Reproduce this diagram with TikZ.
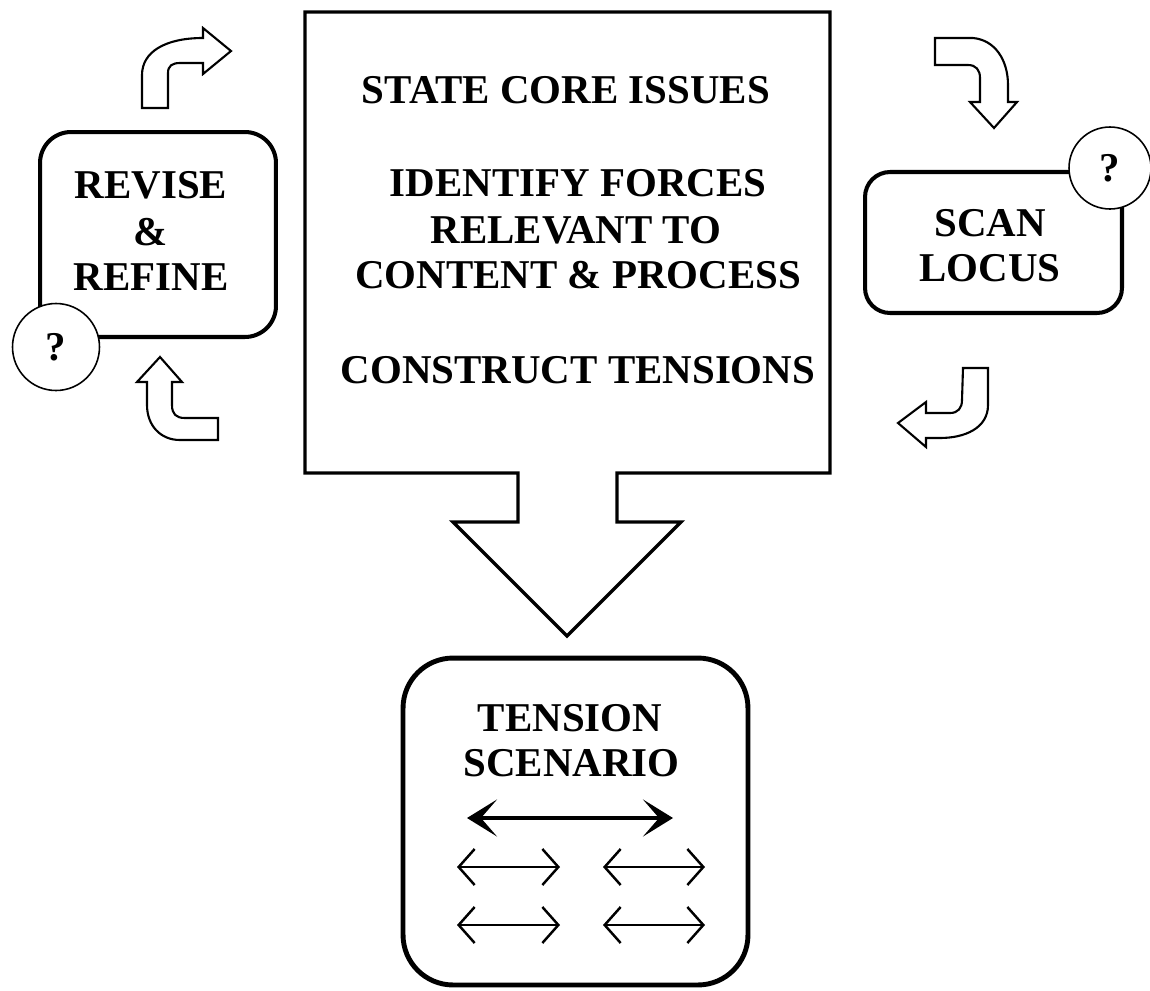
\documentclass[tikz,border=0pt]{standalone}
\usepackage{fontspec}
\setmainfont{Liberation Serif}
\usetikzlibrary{arrows.meta}
\begin{document}
\begin{tikzpicture}[x=0.02cm,y=-0.02cm,
  lbl/.style={font=\bfseries\fontsize{23.3}{26}\selectfont, inner sep=0pt, anchor=base},
  rbox/.style={draw, rectangle, inner sep=0pt},
  qcirc/.style={circle, draw, fill=white, line width=0.9pt, inner sep=0pt, font=\bfseries\fontsize{23.3}{26}\selectfont},
  blockarrow/.style={draw, line width=1.2pt, fill=white},
  bigdbl/.style={line width=1.8pt, {Stealth[length=0.6cm,width=0.74cm,inset=0.32cm]}-{Stealth[length=0.6cm,width=0.74cm,inset=0.32cm]}},
  smalldbl/.style={line width=1.4pt, {Straight Barb[length=0.32cm,width=0.72cm]}-{Straight Barb[length=0.32cm,width=0.72cm]}}
]
\useasboundingbox (0,0) rectangle (1150,991);

% central box with down arrow
\draw[line width=1.9pt, line join=miter] (305,12) -- (830,12) -- (830,473) -- (617,473) -- (617,522) -- (681,522)
  -- (567,636) coordinate (tip) -- (453,522) -- (518,522) -- (518,473) -- (305,473) -- cycle;

\node[lbl] (c1) at (566,103.5) {STATE CORE ISSUES};
\node[lbl] (c2) at (578,196.5) {IDENTIFY FORCES};
\node[lbl] (c3) at (576,243.5) {RELEVANT TO};
\node[lbl] (c4) at (578,288.5) {CONTENT \& PROCESS};
\node[lbl] (c5) at (578,383.5) {CONSTRUCT TENSIONS};

% revise box
\node[rbox, line width=2.3pt, rounded corners=0.62cm, minimum width=4.72cm, minimum height=4.1cm] (revise) at (158,234.5) {};
\node[lbl] (r1) at (151,198.5) {REVISE};
\node[lbl] (r2) at (151,245.5) {\&};
\node[lbl] (r3) at (151,290.5) {REFINE};
\node[qcirc, minimum size=1.74cm] (q1) at (56,347) {?};

% scan box
\node[rbox, line width=2.3pt, rounded corners=0.5cm, minimum width=5.14cm, minimum height=2.82cm] (scan) at (993.5,242.5) {};
\node[lbl] (s1) at (990,236.5) {SCAN};
\node[lbl] (s2) at (990,281.5) {LOCUS};
\node[qcirc, minimum size=1.64cm] (q2) at (1110,168) {?};

% tension box
\node[rbox, line width=2.8pt, rounded corners=1cm, minimum width=6.9cm, minimum height=6.54cm] (tension) at (575.5,821.5) {};
\node[lbl] (t1) at (570,731.5) {TENSION};
\node[lbl] (t2) at (571.5,776.5) {SCENARIO};

\coordinate (a0) at (467,818); \coordinate (b0) at (673,818);
\coordinate (a1) at (457,867); \coordinate (b1) at (560,867);
\coordinate (a2) at (603,867); \coordinate (b2) at (705,867);
\coordinate (a3) at (457,925); \coordinate (b3) at (560,925);
\coordinate (a4) at (603,925); \coordinate (b4) at (705,925);
\draw[bigdbl] (a0) -- (b0);
\draw[smalldbl] (a1) -- (b1);
\draw[smalldbl] (a2) -- (b2);
\draw[smalldbl] (a3) -- (b3);
\draw[smalldbl] (a4) -- (b4);

% curved block arrows
% top-left
\draw[blockarrow] (142,108) -- (142,75) .. controls (142,52) and (165,38) .. (203,38) -- (203,28) -- (231,51)
  -- (203,74) -- (203,63) -- (180,63) .. controls (172,63) and (168,66) .. (168,73) -- (168,108) -- cycle;
% top-right
\draw[blockarrow] (935,38) -- (973,38) .. controls (995,40) and (1008,60) .. (1008,85) -- (1008,102) -- (1017,102)
  -- (994,128) -- (970,102) -- (980,102) -- (980,78) .. controls (980,70) and (976,65) .. (968,65) -- (935,65) -- cycle;
% right-lower
\draw[blockarrow] (963,368) -- (988,368) -- (988,405) .. controls (988,428) and (965,438) .. (940,438) -- (926,438)
  -- (926,447) -- (898,423) -- (926,402) -- (926,413) -- (950,413) .. controls (958,413) and (962,408) .. (962,400) -- cycle;
% left-lower
\draw[blockarrow] (147,382) -- (137,382) -- (160,357) -- (182,382) -- (172,382) -- (172,405)
  .. controls (172,414) and (176,418) .. (185,418) -- (218,418) -- (218,440) -- (180,440)
  .. controls (160,440) and (147,425) .. (147,405) -- cycle;
\end{tikzpicture}
\end{document}
